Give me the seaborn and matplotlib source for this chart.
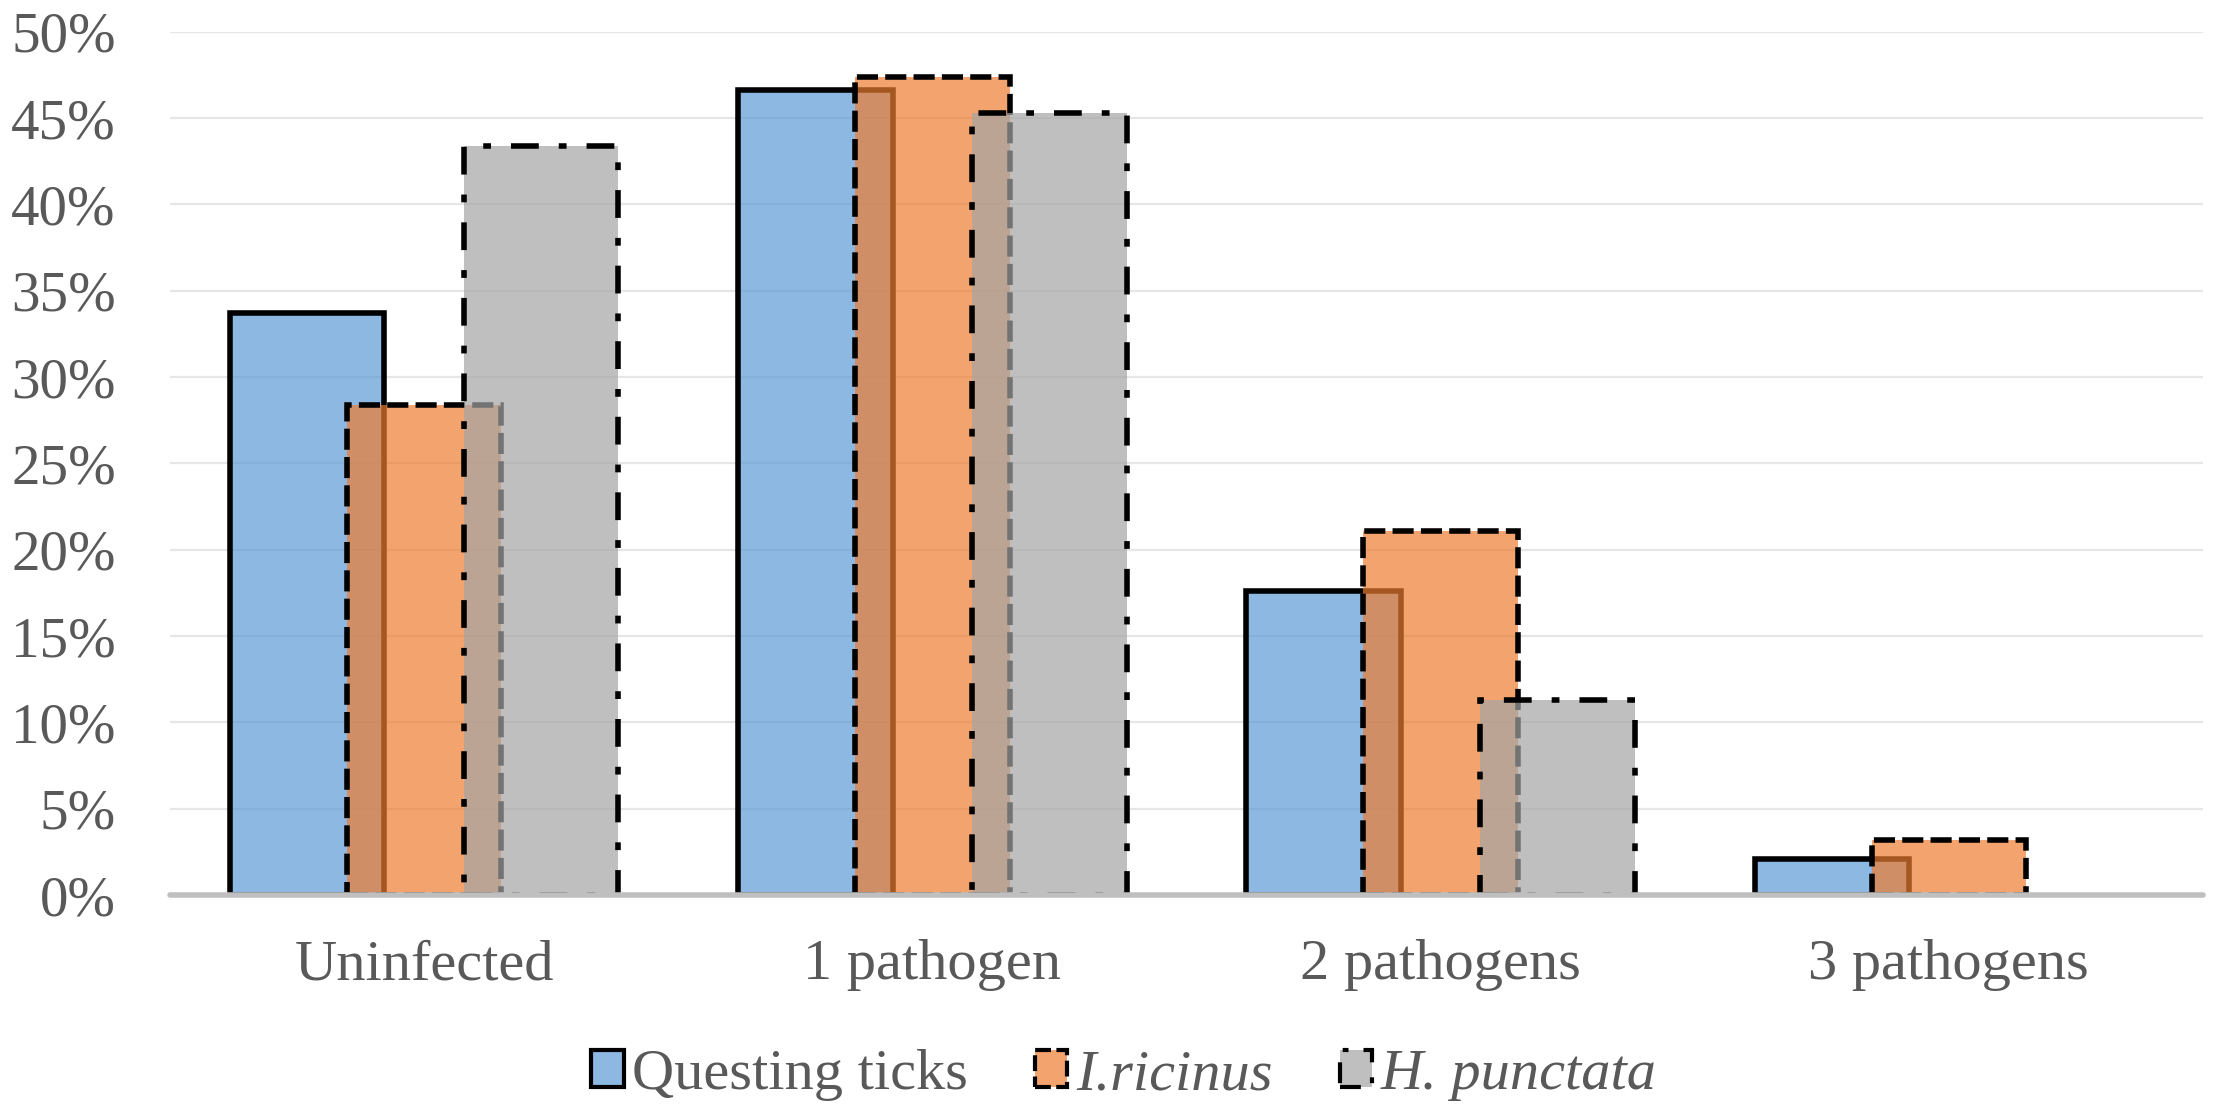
import matplotlib
matplotlib.use("Agg")
import matplotlib.pyplot as plt
import seaborn as sns
import pandas as pd
from matplotlib.ticker import MultipleLocator, FuncFormatter
from matplotlib.colors import to_rgb

# ---- data ----
categories = ["Uninfected", "1 pathogen", "2 pathogens", "3 pathogens"]
series_names = ["Questing ticks", "I.ricinus", "H. punctata"]
questing = [33.7, 46.6, 17.6, 2.1]
ricinus = [28.4, 47.4, 21.1, 3.2]
punctata = [43.4, 45.3, 11.3, 0.0]
colors = ["#5B9BD5", "#ED7D31", "#A5A5A5"]

rows = []
for name, vals in zip(series_names, [questing, ricinus, punctata]):
    for c, v in zip(categories, vals):
        rows.append({"Category": c, "Series": name, "Value": v / 100.0})
df = pd.DataFrame(rows)

sns.set_theme(style="white")
plt.rcParams["font.family"] = ["Liberation Serif", "DejaVu Serif"]

W, H = 2217, 1113
fig = plt.figure(figsize=(W / 100, H / 100), dpi=100)
ax = fig.add_axes([170 / W, 1 - 895 / H, 2033 / W, (895 - 31.7) / H])

sns.barplot(data=df, x="Category", y="Value", hue="Series",
            order=categories, hue_order=series_names,
            palette=colors, width=0.69, dodge=True, legend=False, ax=ax)

lw = 4.0
styles = ["-", (0, (3.8, 1.3)), (0, (5.0, 3.6, 1.4, 3.6))]
bar_w = 0.304
for i, cont in enumerate(ax.containers):
    for bar in cont:
        cx = bar.get_x() + bar.get_width() / 2
        bar.set_width(bar_w)
        bar.set_x(cx - bar_w / 2)
        bar.set_facecolor((*to_rgb(colors[i]), 0.7))
        bar.set_edgecolor("black")
        bar.set_linewidth(lw)
        bar.set_linestyle(styles[i])
        bar.set_capstyle("butt")
        bar.set_joinstyle("miter")
        bar.set_zorder(3 + i)

handles = [cont[0] for cont in ax.containers]

for cont in ax.containers:
    for bar in cont:
        if bar.get_height() == 0:
            bar.set_visible(False)

ax.set_xlim(-0.5, 3.5)
ax.set_ylim(0, 0.5)
ax.yaxis.set_major_locator(MultipleLocator(0.05))
ax.yaxis.set_major_formatter(FuncFormatter(lambda v, p: f"{v*100:.0f}%"))
ax.grid(axis="y", color="#E6E6E6", linewidth=1.6, zorder=0)
ax.set_axisbelow(True)
ax.axhline(0, color="#BFBFBF", linewidth=4, zorder=10, clip_on=False)
for s in ax.spines.values():
    s.set_visible(False)
ax.set_xlabel("")
ax.set_ylabel("")
ax.tick_params(axis="y", length=0, pad=39, labelsize=41, labelcolor="#595959")
ax.tick_params(axis="x", length=0, pad=32, labelsize=42, labelcolor="#595959")

leg = fig.legend(handles, series_names, loc="center",
                 bbox_to_anchor=(1124 / W, 1 - 1075 / H), ncol=3, frameon=False,
                 fontsize=42, handlelength=0.55, handleheight=0.62,
                 handletextpad=0.15, columnspacing=1.15, labelcolor="#595959")
leg.get_texts()[1].set_fontstyle("italic")
leg.get_texts()[2].set_fontstyle("italic")
for h in leg.legend_handles:
    h.set_linewidth(3.0)
    h.set_visible(True)

fig.savefig("out.png", dpi=100)
